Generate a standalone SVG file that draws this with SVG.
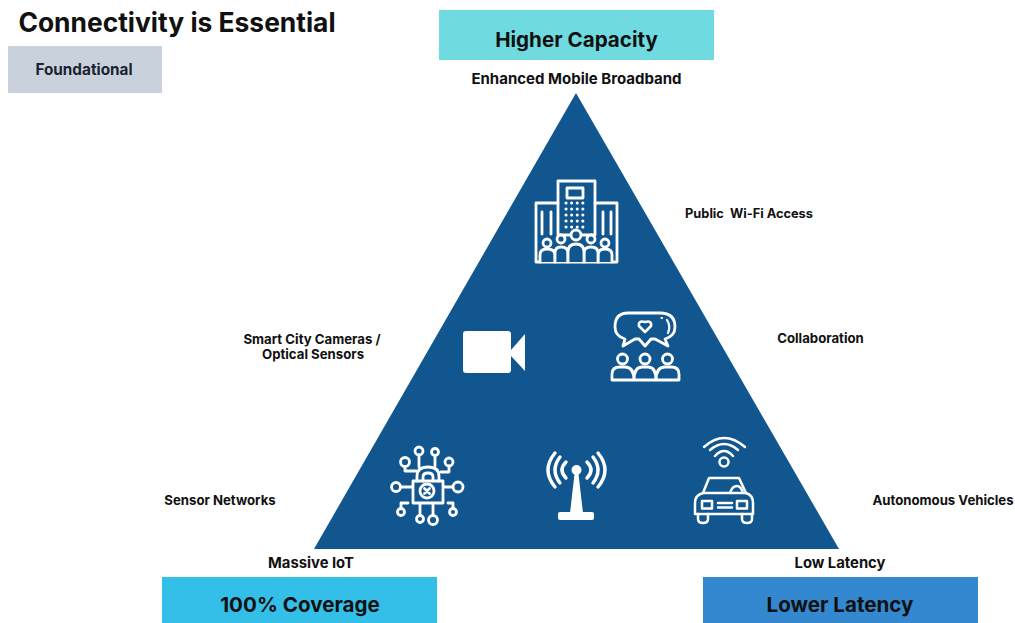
<svg xmlns="http://www.w3.org/2000/svg" width="1015" height="623" viewBox="0 0 1015 623">
<style>
text{font-family:"Inter","Liberation Sans",sans-serif;font-weight:700;fill:#111}
.l{font-size:13.2px;text-anchor:middle}
.m{font-size:14.800px;text-anchor:middle}
.h{font-size:20.600px;text-anchor:middle}
.i{fill:none;stroke:#fff;stroke-width:2.800;stroke-linecap:round;stroke-linejoin:round}
.o{fill:#11568f}
.f{fill:#fff}
</style>
<rect width="1015" height="623" fill="#fff"/>
<g id="title"><text x="177" y="32" font-size="26.4" text-anchor="middle">Connectivity is Essential</text></g>
<g id="foundational"><rect x="8" y="46" width="154" height="47" fill="#c9d2dc"/><text x="84" y="75" font-size="15.300" text-anchor="middle" style="fill:#1a2430">Foundational</text></g>
<g id="capacity"><rect x="439" y="10" width="275" height="50" fill="#6fdbe0"/><text class="h" x="576.500" y="47">Higher Capacity</text></g>
<g id="coverage"><rect x="162" y="577" width="275" height="46" fill="#34bfe8"/><text class="h" x="300" y="612">100% Coverage</text></g>
<g id="latency"><rect x="703" y="577" width="275" height="46" fill="#3388cf"/><text class="h" x="840" y="612">Lower Latency</text></g>
<g id="triangle"><polygon points="576,93 839,549 314,549" fill="#11568f"/></g>
<g id="labels">
<text x="576.500" y="84" font-size="15" text-anchor="middle">Enhanced Mobile Broadband</text>
<text x="749" y="218" font-size="12.800" text-anchor="middle" xml:space="preserve" style="white-space:pre">Public  Wi-Fi Access</text>
<text class="l" x="820.500" y="343">Collaboration</text>
<text class="l" x="312" y="344">Smart City Cameras /</text>
<text class="l" x="313" y="359">Optical Sensors</text>
<text class="l" x="220" y="505">Sensor Networks</text>
<text class="l" x="943" y="505">Autonomous Vehicles</text>
<text class="m" x="311" y="568">Massive IoT</text>
<text class="m" x="840" y="568">Low Latency</text>
</g>
<g id="icon-building" class="i">
<rect x="558" y="181" width="37" height="54"/><rect x="567" y="188" width="16" height="10"/>
<path d="M558 203H536V262H617V203H595"/>
<path d="M542 212V234M551 212V234M603 212V234M611 212V234"/>
<path stroke-dasharray="0.1 5.500" stroke-width="3" d="M566 203H588M566 209H588M566 215H588M566 221H588M566 227H588"/>
<g class="o">
<path d="M540 262V255Q540 249 547 249Q555 249 555 255V262M598 262V255Q598 249 605 249Q612 249 612 255V262"/>
<path d="M555 262V253Q555 247 561 247Q568 247 568 253V262M584 262V253Q584 247 591 247Q598 247 598 253V262"/>
<path d="M568 262V252Q568 244 576 244Q584 244 584 252V262"/>
<circle cx="547" cy="243" r="4"/><circle cx="561" cy="239" r="4"/><circle cx="576" cy="235" r="5"/><circle cx="591" cy="239" r="4"/><circle cx="605" cy="243" r="4"/>
</g>
</g>
<g id="icon-camera">
<rect class="f" x="463" y="331" width="48" height="42" rx="3"/>
<polygon class="f" points="511,350 525,334 525,371 511,356"/>
</g>
<g id="icon-chat" class="i">
<path d="M628 313H660Q675 313 675 327Q675 336 665 339L668 346L655 339H651L645 346L639 339H635L623 346L625 339Q615 336 615 327Q615 313 628 313Z"/>
<path stroke-width="2.600" d="M645 332L639 326Q638 320 645 322Q652 320 651 326Z"/>
<path stroke-width="2.200" d="M661.500 318H662M667 320Q671 326 668 333"/>
<circle cx="622.500" cy="359" r="5"/><circle cx="645" cy="359" r="5"/><circle cx="667.500" cy="359" r="5"/>
<path d="M612 380V374Q612 367 620 367H625Q634 367 634 380H612M634 380H656Q656 367 648 367H642Q634 367 634 380M656 380H679V374Q679 367 671 367H665Q656 367 656 380"/>
</g>
<g id="icon-iot" class="i">
<rect x="413" y="481" width="30" height="22"/>
<path d="M417 481V476Q417 467 428 467Q439 467 439 476V481M423 481V477Q423 473 428 473Q433 473 433 477V481"/>
<circle cx="427" cy="491" r="7"/><path d="M424.500 488.500L429.500 493.500M429.500 488.500L424.500 493.500"/>
<circle cx="419" cy="451" r="4"/><path d="M419 455V467"/>
<circle cx="435" cy="452" r="3.500"/><path d="M435 456V466"/>
<circle cx="405" cy="462" r="4.500"/><path d="M405 467V471H416"/>
<circle cx="449" cy="462" r="4"/><path d="M449 466V472H441"/>
<circle cx="396" cy="487" r="4.500"/><path d="M401 487H412"/>
<circle cx="458" cy="487" r="5"/><path d="M453 487H444"/>
<circle cx="401" cy="512" r="3.500"/><path d="M401 508V503H408"/>
<circle cx="453" cy="512" r="3.500"/><path d="M453 508V503H448"/>
<circle cx="420" cy="519" r="3.500"/><path d="M420 515V504"/>
<circle cx="433" cy="520" r="4.500"/><path d="M433 515V504"/>
</g>
<g id="icon-antenna">
<circle class="f" cx="576.500" cy="470" r="5"/>
<polygon class="f" points="574.500,474 578.500,474 583,513 570,513"/>
<rect class="f" x="558" y="512" width="36" height="8" rx="2"/>
<path class="i" style="stroke-width:3.400" d="M566 462Q558 470 566 478M560 457Q550 470 560 483M555 453Q541 470 555 487M587 462Q595 470 587 478M593 457Q603 470 593 483M598 453Q612 470 598 487"/>
</g>
<g id="icon-car" class="i" style="stroke-width:2.500">
<path d="M704 447Q724 429 745 447M710 450Q724 438 738 450M715 456Q724 446 733 456"/>
<circle cx="724" cy="462" r="4.500"/>
<path d="M695 514V503Q695 495 703 493L709 478H739L746 493Q753 495 753 503V514Z"/>
<path d="M703 493H746M730 493Q732 486 737 486Q741 486 743 493"/>
<rect x="702" y="501" width="10" height="7.500"/><rect x="737" y="501" width="10" height="7.500"/>
<path d="M718 503H732M718 507.500H732"/>
<path d="M698 514V519Q698 523 703 523Q708 523 708 519V514M742 514V519Q742 523 747 523Q752 523 752 519V514"/>
</g>
</svg>
